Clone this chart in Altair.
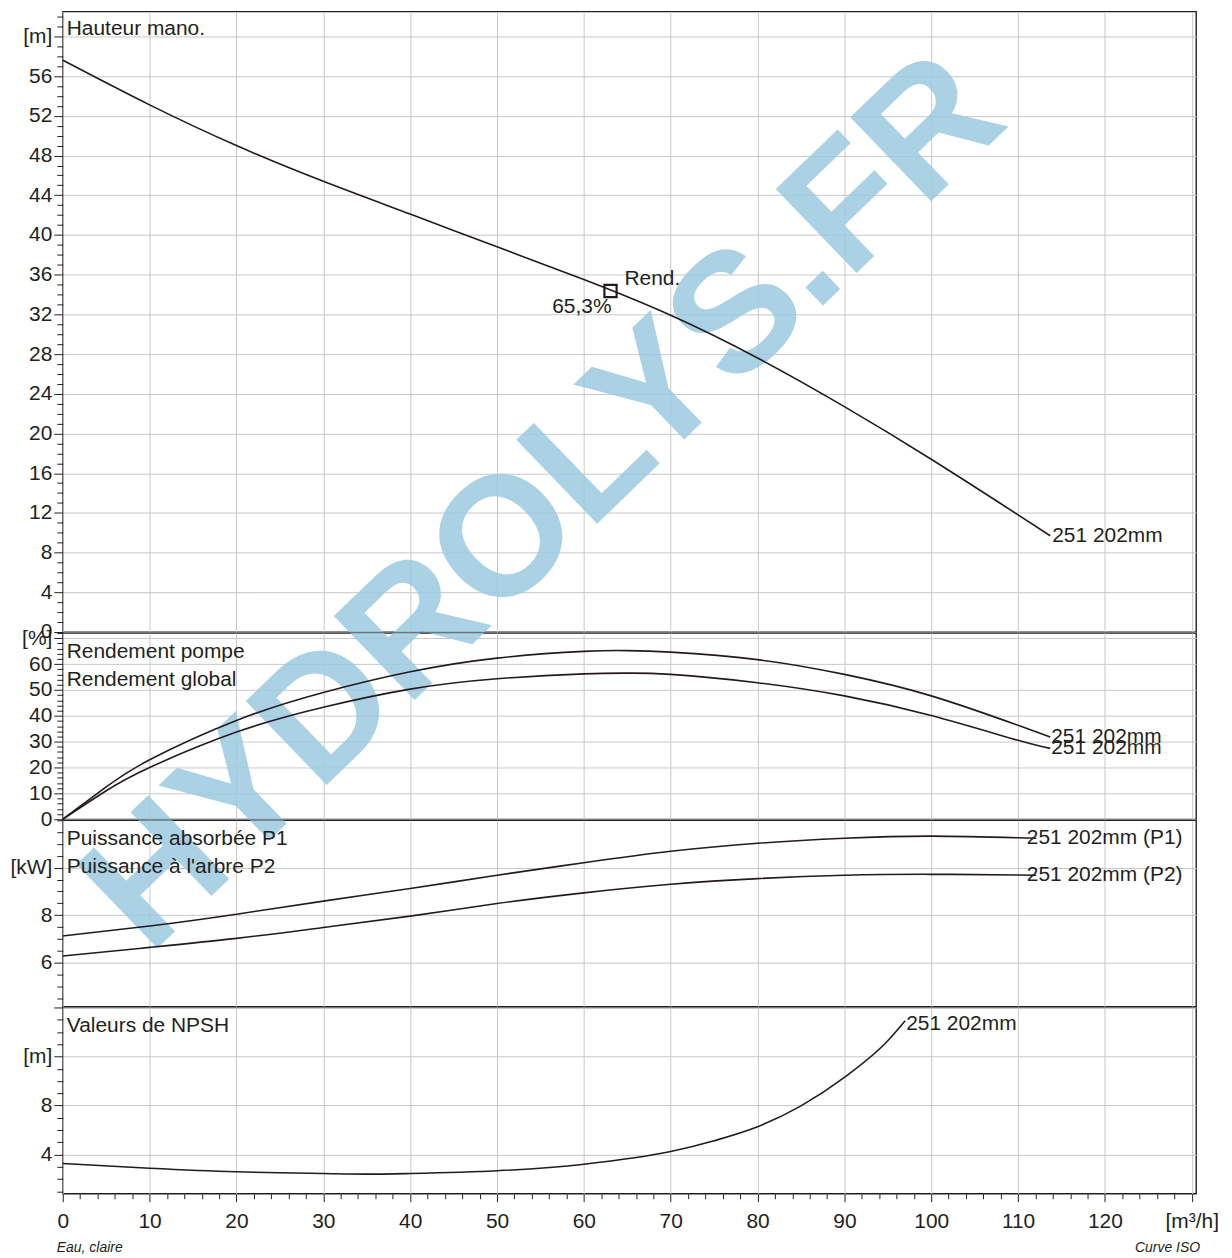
import altair as alt
import pandas as pd

FONT = "Liberation Sans"
INK = "#231f20"
CURVE = "#231a1f"
GRID = "#c8c8c8"
WM_COLOR = "#9ccbe0"
FS = 21

# ---------------- data ----------------
Q_HEAD = [0, 10, 20, 30, 40, 50, 60, 70, 80, 90, 100, 110, 113.7]
HEAD = [57.6, 53.1, 49.0, 45.4, 42.1, 38.8, 35.5, 31.9, 27.6, 22.7, 17.4, 11.8, 9.7]

Q_EFF = [0, 5, 10, 20, 30, 40, 50, 60, 65, 70, 80, 90, 100, 110, 113.7]
EFF_PUMP = [0, 12.5, 23.0, 38.2, 49.0, 57.0, 62.3, 64.9, 65.2, 64.6, 61.7, 56.0, 47.7, 36.3, 31.8]
EFF_GLOBAL = [0, 11.0, 20.0, 33.7, 43.3, 50.3, 54.3, 56.2, 56.5, 56.0, 52.8, 47.7, 40.1, 30.5, 27.4]

Q_POW = [0, 10, 20, 30, 40, 50, 60, 70, 80, 90, 100, 110, 112]
P1 = [7.12, 7.54, 8.04, 8.59, 9.12, 9.68, 10.21, 10.69, 11.03, 11.24, 11.33, 11.26, 11.24]
P2 = [6.28, 6.64, 7.02, 7.48, 7.96, 8.49, 8.94, 9.30, 9.54, 9.68, 9.72, 9.69, 9.68]

Q_NPSH = [0, 10, 20, 30, 35, 40, 50, 60, 70, 75, 80, 85, 90, 95, 97]
NPSH = [3.27, 2.88, 2.59, 2.45, 2.40, 2.45, 2.67, 3.21, 4.24, 5.12, 6.26, 7.97, 10.29, 13.28, 14.91]

BEP_Q = [63.07]
BEP_H = [34.35]
BEP_TXT = ["65,3%"]

CURVE_NAME = "251 202mm"
WATERMARK = "HYDROLYS.FR"

# ---------------- layout ----------------
W = 1138
X_MAX = 130.5
H1, H2, H3, H4 = 623, 187, 187, 187
SP = 1
TOPS = [0, H1 + SP, H1 + SP + H2 + SP, H1 + SP + H2 + SP + H3 + SP]
WM_X, WM_Y = 484, 494

xscale = alt.Scale(domain=[0, X_MAX], nice=False, zero=False)


def x_enc(bottom=False):
    if bottom:
        show = "datum.value % 10 == 0"
        axis = alt.Axis(
            values=list(range(0, 131, 2)),
            tickCount=1000,
            format="d",
            labelExpr=f"datum.value == 130 ? '[m³/h]' : ({show} ? datum.label : '')",
            labelFontSize={"condition": {"test": show, "value": FS}, "value": 0},
            tickSize={"condition": {"test": show, "value": 8}, "value": 5},
            gridOpacity={"condition": {"test": show, "value": 1}, "value": 0},
            labelPadding=9,
            domain=False,
            title=None,
        )
    else:
        axis = alt.Axis(values=list(range(0, 131, 10)), tickCount=1000, labels=False, ticks=False,
                        domain=False, grid=True, title=None)
    return alt.X("q:Q", scale=xscale, axis=axis)


def y_axis(values, label_test, unit_value, unit_text, major_test, fmt="d"):
    show = f"(datum.value == {unit_value} || ({label_test}))"
    return alt.Axis(
        values=values,
        tickCount=1000,
        format=fmt,
        labelExpr=f"datum.value == {unit_value} ? '{unit_text}' : ({label_test} ? datum.label : '')",
        labelFontSize={"condition": {"test": show, "value": FS}, "value": 0},
        tickSize={"condition": {"test": major_test, "value": 9}, "value": 6},
        gridOpacity={"condition": {"test": major_test, "value": 1}, "value": 0},
        labelPadding=2,
        minExtent=54,
        maxExtent=54,
        domain=False,
        title=None,
    )


def watermark(top):
    return alt.Chart(pd.DataFrame({"t": [WATERMARK]})).mark_text(
        font=FONT, fontSize=170, fontWeight="bold", color=WM_COLOR, opacity=0.85,
        angle=316, align="center", baseline="middle", clip=True,
    ).encode(x=alt.value(WM_X), y=alt.value(WM_Y - top), text="t:N")


def title_text(lines, top_y=18, step=28):
    charts = []
    for i, line in enumerate(lines):
        charts.append(
            alt.Chart(pd.DataFrame({"t": [line]})).mark_text(
                font=FONT, fontSize=FS, color=INK, align="left", baseline="middle"
            ).encode(x=alt.value(4), y=alt.value(top_y + i * step), text="t:N")
        )
    return charts


line_kw = dict(color=CURVE, strokeWidth=1.6, interpolate="natural")
lab_kw = dict(font=FONT, fontSize=FS, color=INK, align="left", baseline="middle")

# ---------------- panel 1 : head ----------------
df_h = pd.DataFrame({"q": Q_HEAD, "v": HEAD})
y1 = alt.Y("v:Q", scale=alt.Scale(domain=[0, 62.5], nice=False, zero=False),
           axis=y_axis(list(range(0, 63)), "datum.value % 4 == 0 && datum.value <= 56", 60, "[m]",
                       "datum.value % 4 == 0"))
h_line = alt.Chart(df_h).mark_line(**line_kw).encode(x=x_enc(), y=y1)
h_lab = alt.Chart(df_h.tail(1)).mark_text(dx=2, **lab_kw).encode(
    x="q:Q", y="v:Q", text=alt.value(CURVE_NAME))
df_bep = pd.DataFrame({"q": BEP_Q, "v": BEP_H, "t": BEP_TXT})
bep_pt = alt.Chart(df_bep).mark_point(shape="square", filled=False, size=150,
                                      strokeWidth=2.2, color=CURVE, opacity=1).encode(x="q:Q", y="v:Q")
bep_l1 = alt.Chart(df_bep).mark_text(dx=14, dy=-12, **lab_kw).encode(
    x="q:Q", y="v:Q", text=alt.value("Rend."))
bep_l2 = alt.Chart(df_bep).mark_text(font=FONT, fontSize=FS, color=INK, align="right",
                                     baseline="middle", dx=1, dy=16).encode(x="q:Q", y="v:Q", text="t:N")
p1 = alt.layer(watermark(TOPS[0]), *title_text(["Hauteur mano."]), h_line, h_lab,
               bep_pt, bep_l1, bep_l2).properties(width=W, height=H1)

# ---------------- panel 2 : efficiency ----------------
df_e = pd.DataFrame({
    "q": Q_EFF * 2,
    "v": EFF_PUMP + EFF_GLOBAL,
    "s": ["pompe"] * len(Q_EFF) + ["global"] * len(Q_EFF),
})
y2 = alt.Y("v:Q", scale=alt.Scale(domain=[0, 72], nice=False, zero=False),
           axis=y_axis(list(range(0, 73, 2)), "datum.value % 10 == 0 && datum.value <= 60", 70, "[%]",
                       "datum.value % 10 == 0"))
e_line = alt.Chart(df_e).mark_line(**line_kw).encode(x=x_enc(), y=y2, detail="s:N")
df_e_end = pd.DataFrame({"q": [Q_EFF[-1], Q_EFF[-1]], "v": [EFF_PUMP[-1], EFF_GLOBAL[-1]]})
e_lab = alt.Chart(df_e_end).mark_text(dx=1, **lab_kw).encode(x="q:Q", y="v:Q", text=alt.value(CURVE_NAME))
p2 = alt.layer(watermark(TOPS[1]), *title_text(["Rendement pompe", "Rendement global"], 19),
               e_line, e_lab).properties(width=W, height=H2)

# ---------------- panel 3 : power ----------------
df_p = pd.DataFrame({
    "q": Q_POW * 2,
    "v": P1 + P2,
    "s": ["P1"] * len(Q_POW) + ["P2"] * len(Q_POW),
})
y3 = alt.Y("v:Q", scale=alt.Scale(domain=[4.15, 12], nice=False, zero=False),
           axis=y_axis([4.5 + 0.5 * i for i in range(16)], "(datum.value == 6 || datum.value == 8)",
                       10, "[kW]", "(datum.value == 6 || datum.value == 8 || datum.value == 10)",
                       fmt="~g"))
p_line = alt.Chart(df_p).mark_line(**line_kw).encode(x=x_enc(), y=y3, detail="s:N")
df_p_lab = pd.DataFrame({"q": [111, 111], "v": [P1[-1], P2[-1]],
                         "t": [CURVE_NAME + " (P1)", CURVE_NAME + " (P2)"]})
p_lab = alt.Chart(df_p_lab).mark_text(**lab_kw).encode(x="q:Q", y="v:Q", text="t:N")
p3 = alt.layer(watermark(TOPS[2]),
               *title_text(["Puissance absorbée P1", "Puissance à l'arbre P2"], 19),
               p_line, p_lab).properties(width=W, height=H3)

# ---------------- panel 4 : NPSH ----------------
df_n = pd.DataFrame({"q": Q_NPSH, "v": NPSH})
y4 = alt.Y("v:Q", scale=alt.Scale(domain=[0.8, 16], nice=False, zero=False),
           axis=y_axis(list(range(1, 17)), "(datum.value == 4 || datum.value == 8)", 12, "[m]",
                       "datum.value % 4 == 0"))
n_line = alt.Chart(df_n).mark_line(color=CURVE, strokeWidth=1.6, interpolate="monotone").encode(
    x=x_enc(True), y=y4)
n_lab = alt.Chart(df_n.tail(1)).mark_text(dx=1, dy=3, **lab_kw).encode(
    x="q:Q", y="v:Q", text=alt.value(CURVE_NAME))
foot_l = alt.Chart(pd.DataFrame({"t": ["Eau, claire"]})).mark_text(
    font=FONT, fontSize=14, fontStyle="italic", color=INK, align="left", baseline="middle"
).encode(x=alt.value(-6), y=alt.value(242), text="t:N")
foot_r = alt.Chart(pd.DataFrame({"t": ["Curve ISO"]})).mark_text(
    font=FONT, fontSize=14, fontStyle="italic", color=INK, align="right", baseline="middle"
).encode(x=alt.value(W + 4), y=alt.value(242), text="t:N")
p4 = alt.layer(watermark(TOPS[3]), *title_text(["Valeurs de NPSH"], 19),
               n_line, n_lab, foot_l, foot_r).properties(width=W, height=H4)

chart = (
    alt.vconcat(p1, p2, p3, p4, spacing=SP, bounds="flush")
    .resolve_scale(y="independent")
    .properties(padding={"left": 0, "top": 0, "right": 4, "bottom": 4}, background="white")
    .configure_view(stroke=INK, strokeWidth=1.4)
    .configure_axis(
        labelFont=FONT, labelFontSize=FS, labelColor=INK, tickColor=INK, tickWidth=1,
        gridColor=GRID, gridWidth=1, labelOverlap=False, labelFlush=False,
    )
)

chart.save("out.html", embed_options={"renderer": "svg", "actions": False})
